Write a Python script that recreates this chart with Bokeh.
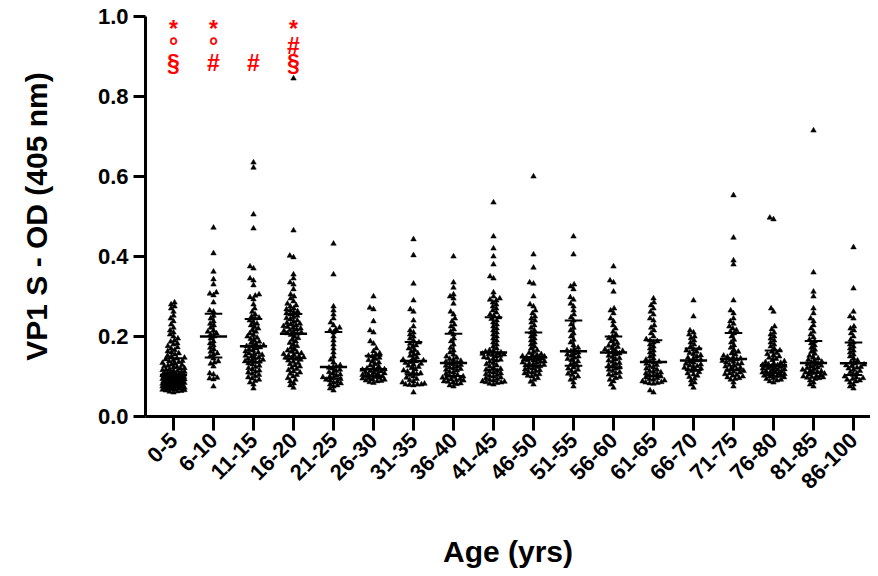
import math
import numpy as np
from bokeh.plotting import figure
from bokeh.models import FixedTicker, Range1d, PrintfTickFormatter
from bokeh.core.properties import value
from bokeh.embed import file_html
from bokeh.resources import INLINE

# ---------------- data ----------------
age_groups = ["0-5", "6-10", "11-15", "16-20", "21-25", "26-30", "31-35", "36-40", "41-45",
              "46-50", "51-55", "56-60", "61-65", "66-70", "71-75", "76-80", "81-85", "86-100"]

od_0_5 = [0.060, 0.062, 0.063, 0.064, 0.065, 0.066, 0.067, 0.068, 0.068, 0.069, 0.070, 0.071, 0.072, 0.072, 0.073,
          0.074, 0.075, 0.075, 0.076, 0.077, 0.078, 0.078, 0.079, 0.080, 0.081, 0.081, 0.082, 0.083, 0.084, 0.085,
          0.086, 0.086, 0.087, 0.088, 0.088, 0.089, 0.090, 0.090, 0.091, 0.091, 0.092, 0.093, 0.093, 0.094, 0.094,
          0.095, 0.096, 0.096, 0.097, 0.097, 0.098, 0.099, 0.099, 0.100, 0.100, 0.101, 0.101, 0.102, 0.102, 0.103,
          0.104, 0.105, 0.106, 0.107, 0.108, 0.109, 0.110, 0.111, 0.112, 0.113, 0.114, 0.116, 0.117, 0.118, 0.120,
          0.121, 0.123, 0.124, 0.126, 0.127, 0.129, 0.130, 0.132, 0.134, 0.136, 0.138, 0.139, 0.141, 0.143, 0.145,
          0.147, 0.150, 0.152, 0.155, 0.158, 0.160, 0.163, 0.166, 0.170, 0.173, 0.176, 0.180, 0.183, 0.187, 0.190,
          0.195, 0.200, 0.205, 0.210, 0.215, 0.222, 0.230, 0.238, 0.245, 0.252, 0.262, 0.270, 0.275, 0.280, 0.285]
od_6_10 = [0.075, 0.093, 0.095, 0.097, 0.105, 0.108, 0.125, 0.132, 0.135, 0.138, 0.145, 0.150, 0.155, 0.158, 0.162,
           0.168, 0.172, 0.178, 0.183, 0.188, 0.195, 0.200, 0.205, 0.208, 0.212, 0.215, 0.222, 0.228, 0.232, 0.238,
           0.245, 0.252, 0.262, 0.265, 0.285, 0.303, 0.307, 0.310, 0.330, 0.343, 0.362, 0.408, 0.472]
od_11_15 = [0.635, 0.622, 0.505, 0.470, 0.375, 0.370, 0.345, 0.340, 0.328, 0.305, 0.302, 0.298, 0.293, 0.280, 0.270,
            0.262, 0.255, 0.250, 0.247, 0.245, 0.240, 0.236, 0.232, 0.228, 0.224, 0.220, 0.216, 0.212, 0.208, 0.204,
            0.200, 0.197, 0.194, 0.190, 0.187, 0.184, 0.181, 0.178, 0.176, 0.175, 0.173, 0.170, 0.168, 0.165, 0.163,
            0.160, 0.158, 0.156, 0.154, 0.152, 0.150, 0.148, 0.146, 0.144, 0.142, 0.140, 0.138, 0.137, 0.136, 0.133,
            0.130, 0.127, 0.124, 0.121, 0.118, 0.115, 0.112, 0.110, 0.107, 0.104, 0.101, 0.098, 0.095, 0.092, 0.089,
            0.085, 0.080, 0.070]
od_16_20 = [0.845, 0.465, 0.402, 0.398, 0.355, 0.345, 0.335, 0.330, 0.318, 0.305, 0.300, 0.295, 0.288, 0.282, 0.278,
            0.275, 0.270, 0.268, 0.265, 0.263, 0.260, 0.258, 0.255, 0.252, 0.249, 0.246, 0.243, 0.240, 0.237, 0.234,
            0.232, 0.230, 0.228, 0.226, 0.224, 0.222, 0.220, 0.218, 0.216, 0.214, 0.212, 0.210, 0.208, 0.207, 0.204,
            0.200, 0.196, 0.192, 0.188, 0.184, 0.180, 0.176, 0.172, 0.168, 0.165, 0.162, 0.160, 0.158, 0.156, 0.154,
            0.152, 0.150, 0.148, 0.147, 0.146, 0.144, 0.142, 0.140, 0.137, 0.134, 0.131, 0.128, 0.125, 0.122, 0.119,
            0.116, 0.113, 0.110, 0.107, 0.104, 0.100, 0.096, 0.092, 0.088, 0.083, 0.078, 0.072]
od_21_25 = [0.432, 0.355, 0.275, 0.265, 0.255, 0.245, 0.235, 0.228, 0.222, 0.218, 0.215, 0.210, 0.200, 0.190, 0.180,
            0.170, 0.160, 0.150, 0.142, 0.135, 0.128, 0.125, 0.122, 0.120, 0.117, 0.114, 0.111, 0.108, 0.105, 0.103,
            0.100, 0.098, 0.096, 0.094, 0.092, 0.090, 0.088, 0.085, 0.083, 0.080, 0.078, 0.075, 0.070, 0.065]
od_26_30 = [0.300, 0.272, 0.268, 0.238, 0.215, 0.210, 0.188, 0.182, 0.170, 0.163, 0.158, 0.155, 0.152, 0.150, 0.147,
            0.144, 0.141, 0.138, 0.135, 0.131, 0.128, 0.125, 0.122, 0.120, 0.118, 0.117, 0.116, 0.114, 0.113, 0.111,
            0.110, 0.108, 0.107, 0.105, 0.104, 0.102, 0.101, 0.100, 0.099, 0.097, 0.096, 0.095, 0.093, 0.092, 0.090,
            0.089, 0.088, 0.086, 0.084]
od_31_35 = [0.443, 0.403, 0.332, 0.290, 0.268, 0.262, 0.240, 0.225, 0.215, 0.210, 0.205, 0.200, 0.195, 0.190, 0.185,
            0.182, 0.178, 0.174, 0.170, 0.166, 0.162, 0.158, 0.155, 0.152, 0.148, 0.145, 0.142, 0.140, 0.138, 0.136,
            0.134, 0.132, 0.130, 0.127, 0.124, 0.121, 0.118, 0.115, 0.112, 0.110, 0.108, 0.106, 0.104, 0.100, 0.097,
            0.094, 0.091, 0.088, 0.085, 0.082, 0.080, 0.080, 0.080, 0.079, 0.078, 0.060]
od_36_40 = [0.400, 0.335, 0.322, 0.305, 0.300, 0.295, 0.282, 0.262, 0.255, 0.245, 0.238, 0.230, 0.225, 0.218, 0.212,
            0.205, 0.195, 0.188, 0.180, 0.172, 0.165, 0.160, 0.155, 0.150, 0.147, 0.144, 0.141, 0.139, 0.137, 0.135,
            0.133, 0.131, 0.129, 0.127, 0.125, 0.123, 0.121, 0.119, 0.117, 0.115, 0.112, 0.110, 0.107, 0.104, 0.102,
            0.100, 0.099, 0.097, 0.096, 0.094, 0.093, 0.091, 0.090, 0.088, 0.087, 0.085, 0.083, 0.081, 0.078, 0.075]
od_41_45 = [0.535, 0.450, 0.420, 0.400, 0.380, 0.350, 0.345, 0.310, 0.300, 0.295, 0.292, 0.290, 0.285, 0.280, 0.275,
            0.270, 0.265, 0.260, 0.255, 0.252, 0.248, 0.244, 0.240, 0.235, 0.230, 0.225, 0.220, 0.215, 0.210, 0.205,
            0.200, 0.195, 0.190, 0.185, 0.180, 0.175, 0.170, 0.166, 0.164, 0.162, 0.160, 0.158, 0.157, 0.156, 0.155,
            0.154, 0.152, 0.150, 0.148, 0.146, 0.144, 0.142, 0.140, 0.137, 0.134, 0.131, 0.128, 0.125, 0.122, 0.119,
            0.117, 0.114, 0.112, 0.110, 0.108, 0.106, 0.104, 0.102, 0.100, 0.098, 0.096, 0.094, 0.092, 0.090, 0.088,
            0.087, 0.086, 0.085, 0.084, 0.082, 0.080]
od_46_50 = [0.600, 0.405, 0.372, 0.335, 0.332, 0.300, 0.280, 0.275, 0.265, 0.258, 0.250, 0.245, 0.240, 0.235, 0.228,
            0.222, 0.216, 0.210, 0.205, 0.200, 0.195, 0.190, 0.185, 0.180, 0.175, 0.170, 0.166, 0.162, 0.159, 0.156,
            0.154, 0.152, 0.151, 0.150, 0.148, 0.147, 0.146, 0.145, 0.144, 0.143, 0.142, 0.141, 0.140, 0.138, 0.137,
            0.135, 0.134, 0.132, 0.130, 0.129, 0.128, 0.126, 0.124, 0.122, 0.120, 0.118, 0.116, 0.114, 0.112, 0.110,
            0.108, 0.106, 0.104, 0.102, 0.100, 0.096, 0.092, 0.087, 0.080]
od_51_55 = [0.450, 0.405, 0.330, 0.325, 0.318, 0.298, 0.292, 0.282, 0.275, 0.265, 0.255, 0.248, 0.240, 0.230, 0.222,
            0.215, 0.208, 0.200, 0.192, 0.185, 0.178, 0.172, 0.168, 0.165, 0.163, 0.160, 0.158, 0.155, 0.152, 0.150,
            0.147, 0.144, 0.141, 0.138, 0.134, 0.130, 0.127, 0.123, 0.120, 0.117, 0.114, 0.110, 0.107, 0.104, 0.100,
            0.096, 0.092, 0.085, 0.075]
od_56_60 = [0.375, 0.340, 0.335, 0.312, 0.270, 0.265, 0.258, 0.245, 0.238, 0.228, 0.220, 0.212, 0.205, 0.200, 0.196,
            0.192, 0.188, 0.184, 0.180, 0.177, 0.174, 0.171, 0.168, 0.166, 0.164, 0.162, 0.160, 0.158, 0.155, 0.152,
            0.149, 0.146, 0.143, 0.140, 0.137, 0.134, 0.131, 0.128, 0.125, 0.123, 0.120, 0.117, 0.114, 0.111, 0.108,
            0.105, 0.102, 0.099, 0.096, 0.092, 0.088, 0.080, 0.072]
od_61_65 = [0.295, 0.285, 0.278, 0.270, 0.262, 0.255, 0.245, 0.240, 0.228, 0.222, 0.215, 0.208, 0.200, 0.193, 0.190,
            0.188, 0.185, 0.180, 0.175, 0.170, 0.165, 0.160, 0.155, 0.150, 0.145, 0.142, 0.139, 0.137, 0.135, 0.132,
            0.129, 0.126, 0.123, 0.120, 0.117, 0.114, 0.112, 0.110, 0.108, 0.106, 0.104, 0.102, 0.100, 0.098, 0.096,
            0.094, 0.092, 0.090, 0.088, 0.086, 0.085, 0.084, 0.083, 0.082, 0.065, 0.060]
od_66_70 = [0.290, 0.250, 0.215, 0.210, 0.205, 0.200, 0.196, 0.190, 0.185, 0.180, 0.175, 0.170, 0.168, 0.165, 0.162,
            0.159, 0.156, 0.153, 0.150, 0.147, 0.145, 0.142, 0.140, 0.138, 0.135, 0.132, 0.130, 0.128, 0.126, 0.124,
            0.122, 0.120, 0.118, 0.116, 0.114, 0.111, 0.108, 0.105, 0.102, 0.099, 0.095, 0.090, 0.085, 0.080, 0.072]
od_71_75 = [0.553, 0.447, 0.390, 0.380, 0.290, 0.265, 0.258, 0.245, 0.238, 0.232, 0.225, 0.220, 0.216, 0.212, 0.208,
            0.200, 0.192, 0.185, 0.178, 0.172, 0.166, 0.162, 0.158, 0.155, 0.152, 0.149, 0.147, 0.145, 0.143, 0.141,
            0.139, 0.137, 0.135, 0.133, 0.131, 0.129, 0.127, 0.125, 0.122, 0.120, 0.118, 0.116, 0.114, 0.112, 0.110,
            0.108, 0.106, 0.104, 0.102, 0.100, 0.098, 0.096, 0.094, 0.092, 0.085, 0.075]
od_76_80 = [0.497, 0.493, 0.270, 0.262, 0.225, 0.218, 0.210, 0.205, 0.200, 0.195, 0.190, 0.185, 0.180, 0.175, 0.170,
            0.165, 0.162, 0.159, 0.156, 0.153, 0.150, 0.147, 0.144, 0.141, 0.138, 0.136, 0.134, 0.132, 0.130, 0.129,
            0.128, 0.127, 0.126, 0.125, 0.124, 0.122, 0.121, 0.120, 0.118, 0.117, 0.116, 0.114, 0.113, 0.112, 0.110,
            0.109, 0.107, 0.106, 0.105, 0.104, 0.103, 0.102, 0.101, 0.100, 0.098, 0.096, 0.094, 0.092, 0.090, 0.088,
            0.085]
od_81_85 = [0.715, 0.360, 0.312, 0.300, 0.270, 0.258, 0.245, 0.238, 0.228, 0.220, 0.212, 0.205, 0.198, 0.192, 0.188,
            0.183, 0.178, 0.172, 0.167, 0.162, 0.157, 0.152, 0.148, 0.145, 0.142, 0.139, 0.137, 0.135, 0.133, 0.131,
            0.129, 0.127, 0.125, 0.123, 0.121, 0.119, 0.117, 0.115, 0.113, 0.112, 0.110, 0.109, 0.107, 0.105, 0.103,
            0.101, 0.100, 0.099, 0.098, 0.097, 0.096, 0.094, 0.090, 0.085, 0.080, 0.075]
od_86_100 = [0.423, 0.320, 0.262, 0.250, 0.245, 0.225, 0.220, 0.215, 0.208, 0.200, 0.192, 0.185, 0.180, 0.175, 0.170,
             0.165, 0.160, 0.155, 0.150, 0.145, 0.140, 0.136, 0.133, 0.130, 0.128, 0.126, 0.124, 0.122, 0.120, 0.117,
             0.114, 0.111, 0.108, 0.104, 0.100, 0.098, 0.096, 0.094, 0.092, 0.090, 0.088, 0.085, 0.080, 0.075, 0.070]

group_values = [od_0_5, od_6_10, od_11_15, od_16_20, od_21_25, od_26_30, od_31_35, od_36_40, od_41_45,
                od_46_50, od_51_55, od_56_60, od_61_65, od_66_70, od_71_75, od_76_80, od_81_85, od_86_100]

# significance marks: group, symbol, row value (baseline)
sig_group = ["0-5", "0-5", "0-5", "6-10", "6-10", "6-10", "11-15", "16-20", "16-20", "16-20"]
sig_text = ["*", "°", "§", "*", "°", "#", "#", "*", "#", "§"]
sig_y = [0.97, 0.927, 0.883, 0.97, 0.927, 0.883, 0.883, 0.97, 0.927, 0.883]

y_ticks = [0.0, 0.2, 0.4, 0.6, 0.8, 1.0]

# ---------------- layout helpers ----------------
PX_PER_CAT = 40.0   # horizontal pixels per category
PX_PER_Y = 400.0    # vertical pixels per OD unit


def swarm_offsets(vals, d=4.0, lim=11.0):
    vals = np.asarray(vals, dtype=float)
    order = np.argsort(vals, kind="stable")
    px_list, py_list = [], []
    out = np.zeros(len(vals))
    for idx in order:
        y = vals[idx] * PX_PER_Y
        near = [(px, py) for px, py in zip(px_list, py_list) if abs(py - y) < d]
        cands = [0.0]
        for px, py in near:
            dx = math.sqrt(max(d * d - (py - y) ** 2, 0.0))
            cands += [px + dx, px - dx]
        cands.sort(key=lambda c: (abs(c), c))
        chosen = None
        for c in cands:
            if all((c - px) ** 2 + (y - py) ** 2 >= d * d - 1e-6 for px, py in near):
                chosen = c
                break
        if chosen is None or abs(chosen) > lim:
            grid = np.linspace(-lim, lim, 45)
            chosen = max(grid, key=lambda g: min([(g - px) ** 2 + (y - py) ** 2 for px, py in near] + [1e9]))
        px_list.append(chosen)
        py_list.append(y)
        out[idx] = chosen
    return out / PX_PER_CAT


xs, ys = [], []
for gi, vals in enumerate(group_values):
    off = swarm_offsets(vals)
    xs.extend(gi + off)
    ys.extend(vals)

med_x0, med_x1, med_y = [], [], []
q_x0, q_x1, q_y = [], [], []
v_x, v_y0, v_y1 = [], [], []
for gi, vals in enumerate(group_values):
    q1, med, q3 = np.percentile(vals, [25, 50, 75])
    med_x0.append(gi - 0.34); med_x1.append(gi + 0.34); med_y.append(med)
    for q in (q1, q3):
        q_x0.append(gi - 0.22); q_x1.append(gi + 0.22); q_y.append(q)
    v_x.append(gi); v_y0.append(q1); v_y1.append(q3)

FONT = "Liberation Sans"

p = figure(width=870, height=570, output_backend="svg", toolbar_location=None,
           x_range=Range1d(-0.7, 17.425), y_range=Range1d(0, 1.0),
           min_border_left=145, min_border_right=0, min_border_top=16, min_border_bottom=153)
p.outline_line_color = None
p.xgrid.visible = False
p.ygrid.visible = False
p.background_fill_color = "white"
p.border_fill_color = "white"

p.scatter(xs, ys, marker="triangle", size=5.5, fill_color="black", line_color="black", line_width=0.5)
p.segment(med_x0, med_y, med_x1, med_y, line_color="black", line_width=2.5)
p.segment(q_x0, q_y, q_x1, q_y, line_color="black", line_width=2)
p.segment(v_x, v_y0, v_x, v_y1, line_color="black", line_width=2)

sig_x = [age_groups.index(g) for g in sig_group]
p.text(sig_x, sig_y, text=sig_text, text_color="#ff0000", text_font=value(FONT),
       text_font_size="23px", text_font_style="bold", text_align="center", text_baseline="alphabetic")

for ax in (p.xaxis, p.yaxis):
    ax.axis_line_width = 3
    ax.axis_line_color = "black"
    ax.major_tick_line_width = 3
    ax.major_tick_line_color = "black"
    ax.major_tick_in = 0
    ax.minor_tick_line_color = None
    ax.major_label_text_font = FONT
    ax.major_label_text_font_style = "bold"
    ax.major_label_text_font_size = "22px"
    ax.major_label_text_color = "black"
    ax.axis_label_text_font = FONT
    ax.axis_label_text_font_style = "bold"
    ax.axis_label_text_font_size = "30px"
    ax.axis_label_text_color = "black"

p.yaxis.ticker = FixedTicker(ticks=y_ticks)
p.yaxis.formatter = PrintfTickFormatter(format="%.1f")
p.yaxis.major_tick_out = 12
p.yaxis.major_label_standoff = 5
p.yaxis.axis_label = "VP1 S - OD (405 nm)"
p.yaxis.axis_label_standoff = 42

p.xaxis.ticker = FixedTicker(ticks=list(range(len(age_groups))))
p.xaxis.major_label_overrides = {i: g for i, g in enumerate(age_groups)}
p.xaxis.major_label_orientation = math.pi / 4
p.xaxis.major_tick_out = 14
p.xaxis.major_label_standoff = 6
p.xaxis.axis_label = "Age (yrs)"
p.xaxis.axis_label_standoff = 36

open("out.html", "w").write(file_html(p, INLINE))
